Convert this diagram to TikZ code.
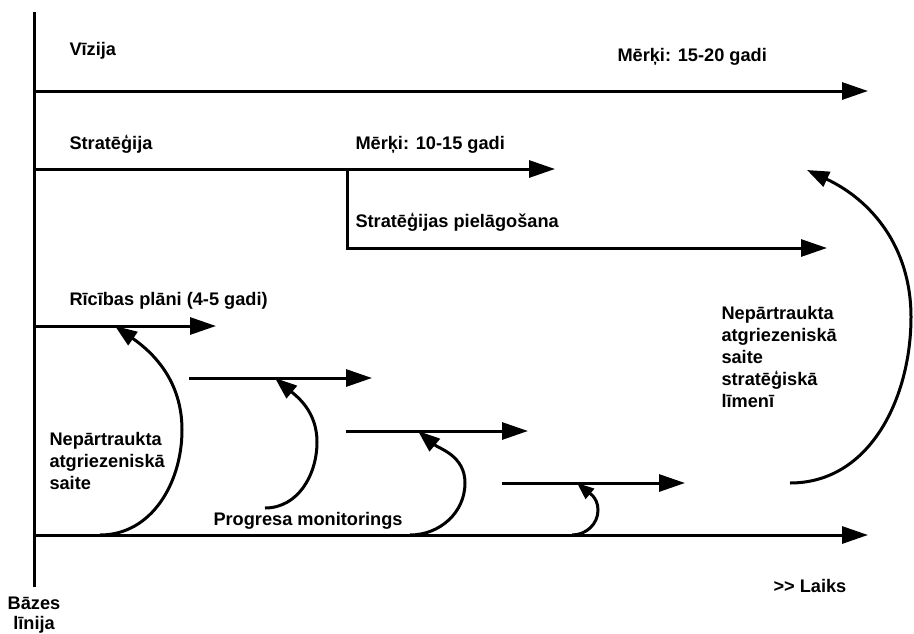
\documentclass[tikz,border=0pt]{standalone}
\usepackage{fontspec}
\setmainfont{Liberation Sans}
\usetikzlibrary{arrows.meta}

\begin{document}
\begin{tikzpicture}[x=1pt,y=-1pt,line width=3pt,
	lbl/.style={anchor=base west,inner sep=0pt,align=left,font=\fontsize{18.2}{22}\selectfont\bfseries},
	arr/.style={-{Triangle[length=26pt,width=17pt]}},
	fb/.style={-{Triangle[length=22pt,width=16pt]}}]
	\useasboundingbox (0,0) rectangle (914,633);
	
	% axes
	\coordinate (top) at (34,12);
	\coordinate (bot) at (34,587);
	\draw (top) -- (bot);
	\coordinate (v0) at (34,91);   \coordinate (v1) at (868,91);
	\coordinate (s0) at (34,169);  \coordinate (s1) at (555,169);
	\coordinate (p0) at (347,169); \coordinate (p1) at (347,248); \coordinate (p2) at (827,248);
	\coordinate (t0) at (34,535);  \coordinate (t1) at (868,535);
	\draw[arr] (v0) -- (v1);
	\draw[arr] (s0) -- (s1);
	\draw[arr] (p0) -- (p1) -- (p2);
	\draw[arr] (t0) -- (t1);
	
	% action plans
	\coordinate (a0) at (34,326);  \coordinate (a1) at (216,326);
	\coordinate (b0) at (189,378); \coordinate (b1) at (372,378);
	\coordinate (c0) at (346,431); \coordinate (c1) at (528,431);
	\coordinate (d0) at (502,483); \coordinate (d1) at (685,483);
	\draw[arr] (a0) -- (a1);
	\draw[arr] (b0) -- (b1);
	\draw[arr] (c0) -- (c1);
	\draw[arr] (d0) -- (d1);
	
	% feedback loops
	\draw[fb] (100,535) to[out=0,in=-90] (182,430) to[out=90,in=-35] (115,326);
	\draw[fb] (265,508) to[out=0,in=-90] (317,442) to[out=90,in=-40] (275,378);
	\draw[fb] (410,535) to[out=0,in=-90] (465,483) to[out=90,in=-40] (418,431);
	\draw[-{Triangle[length=17pt,width=13pt]}] (572,535) to[out=0,in=-90] (598,510) to[out=90,in=-40] (577,483);
	\draw[fb] (790,483) to[out=0,in=-90] (911,317) to[out=90,in=-25] (807,170);
	
	% labels
	\node[lbl] (vizija) at (68,55) {Vīzija};
	\node[lbl] (merki1) at (616,61) {Mērķi: 15-20 gadi};
	\node[lbl] (strat) at (68,149) {Stratēģija};
	\node[lbl] (merki2) at (354,149) {Mērķi: 10-15 gadi};
	\node[lbl] (pielag) at (354,227) {Stratēģijas pielāgošana};
	\node[lbl] (ricib) at (68,305) {Rīcības plāni (4-5 gadi)};
	\node[lbl] (nepart1) at (48,489) {Nepārtraukta\\atgriezeniskā\\saite};
	\node[lbl] (progr) at (212,525) {Progresa monitorings};
	\node[lbl] (nepart2) at (720,407) {Nepārtraukta\\atgriezeniskā\\saite\\stratēģiskā\\līmenī};
	\node[lbl] (laiks) at (772,592) {>{}> Laiks};
	\node[lbl,align=center,anchor=base] (baze) at (34,629) {Bāzes\\[-2pt]līnija};
\end{tikzpicture}
\end{document}
